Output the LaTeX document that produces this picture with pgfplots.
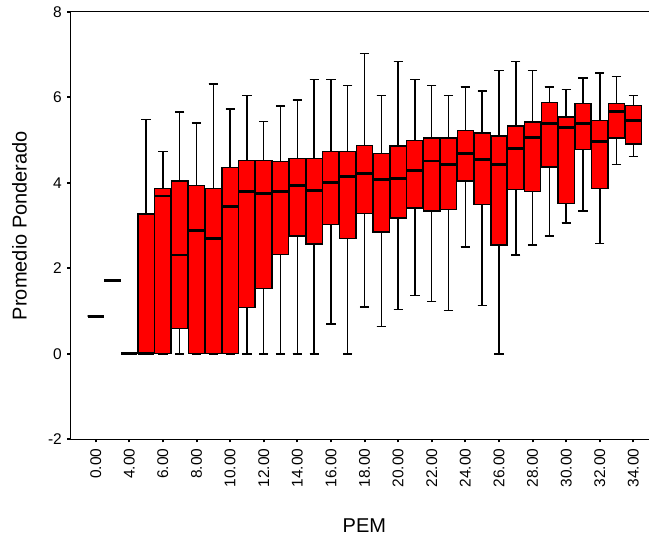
\documentclass[border=0pt]{standalone}
\usepackage{fontspec}
\setmainfont{Liberation Sans}
\usepackage{pgfplots}
\pgfplotsset{compat=1.18}
\usepgfplotslibrary{statistics}
\pgfplotsset{
  bxs/.style={draw=black, fill=red, line width=1.4pt, solid,
    boxplot/draw direction=y,
    boxplot/box extend=0.97, boxplot/whisker extend=0.55,
    boxplot/every median/.style={line width=2.8pt, black},
    boxplot/every whisker/.style={line width=1.5pt, black}}
}
\newcommand{\bx}[6]{\addplot[bxs, boxplot prepared={draw position=#1, lower whisker=#2, lower quartile=#3, median=#4, upper quartile=#5, upper whisker=#6}] coordinates {};}
\begin{document}
\begin{tikzpicture}
\useasboundingbox (-70.5pt,-102.7pt) rectangle (578.5pt,439.3pt);
\begin{axis}[
  at={(0pt,0pt)}, anchor=south west,
  scale only axis, width=578.5pt, height=427.6pt,
  xmin=-1.5, xmax=32.93, ymin=-2, ymax=8, enlargelimits=false,
  axis line style={draw=none},
  xtick={0,2,...,32},
  xticklabels={0.00,4.00,6.00,8.00,10.00,12.00,14.00,16.00,18.00,20.00,22.00,24.00,26.00,28.00,30.00,32.00,34.00},
  ytick={-2,0,2,4,6,8},
  xtick pos=left, ytick pos=left,
  tick align=outside, major tick length=3pt,
  tick style={black, line width=2pt},
  /pgf/number format/assume math mode=true,
  tick label style={font=\fontsize{15.5}{18}\selectfont, inner sep=0pt},
  xticklabel style={rotate=90, anchor=east},
  xticklabel shift=6pt, yticklabel shift=5.5pt,
  yticklabel style={anchor=east},
  xlabel={PEM}, ylabel={Promedio Ponderado},
  label style={font=\fontsize{20}{24}\selectfont},
  xlabel style={at={([yshift=-92.7pt]axis description cs:0.508,0)}, anchor=base},
  ylabel style={at={([xshift=-43.8pt]axis description cs:0,0.5)}, anchor=base},
  clip=false,
]
\bx{0}{0.88}{0.88}{0.88}{0.88}{0.88}
\bx{1}{1.71}{1.71}{1.71}{1.71}{1.71}
\bx{2}{0}{0}{0}{0}{0}
\bx{3}{0}{0}{0}{3.27}{5.48}
\bx{4}{0}{0}{3.69}{3.87}{4.73}
\bx{5}{0}{0.59}{2.31}{4.04}{5.65}
\bx{6}{0}{0}{2.89}{3.94}{5.40}
\bx{7}{0}{0}{2.70}{3.86}{6.31}
\bx{8}{0}{0}{3.44}{4.36}{5.72}
\bx{9}{0}{1.08}{3.79}{4.52}{6.04}
\bx{10}{0}{1.53}{3.75}{4.52}{5.43}
\bx{11}{0}{2.32}{3.79}{4.49}{5.79}
\bx{12}{0}{2.75}{3.94}{4.56}{5.93}
\bx{13}{0}{2.57}{3.82}{4.56}{6.41}
\bx{14}{0.70}{3.02}{4.00}{4.73}{6.41}
\bx{15}{0}{2.69}{4.14}{4.73}{6.27}
\bx{16}{1.09}{3.28}{4.22}{4.87}{7.02}
\bx{17}{0.64}{2.85}{4.08}{4.68}{6.04}
\bx{18}{1.04}{3.18}{4.10}{4.86}{6.84}
\bx{19}{1.36}{3.41}{4.28}{4.99}{6.41}
\bx{20}{1.22}{3.34}{4.51}{5.05}{6.27}
\bx{21}{1.01}{3.37}{4.42}{5.05}{6.04}
\bx{22}{2.50}{4.04}{4.69}{5.22}{6.24}
\bx{23}{1.13}{3.49}{4.55}{5.16}{6.14}
\bx{24}{0}{2.54}{4.43}{5.09}{6.63}
\bx{25}{2.31}{3.84}{4.80}{5.33}{6.84}
\bx{26}{2.54}{3.80}{5.05}{5.42}{6.63}
\bx{27}{2.75}{4.37}{5.39}{5.88}{6.24}
\bx{28}{3.06}{3.52}{5.29}{5.54}{6.18}
\bx{29}{3.34}{4.78}{5.39}{5.86}{6.45}
\bx{30}{2.58}{3.86}{4.97}{5.46}{6.57}
\bx{31}{4.43}{5.05}{5.66}{5.86}{6.48}
\bx{32}{4.61}{4.91}{5.46}{5.81}{6.04}
\draw[line width=1.5pt, black] (rel axis cs:1,1) -| (rel axis cs:0,0) -- (rel axis cs:1,0);
\end{axis}
\end{tikzpicture}
\end{document}
